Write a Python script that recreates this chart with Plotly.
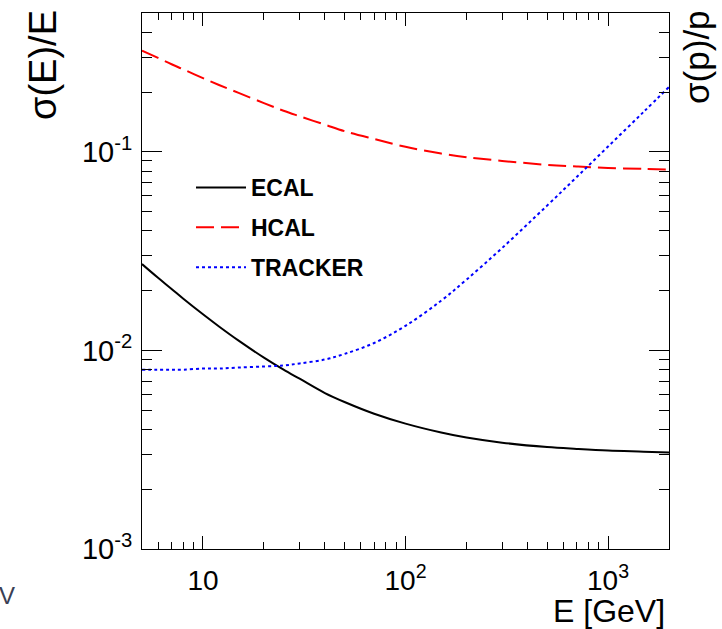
import plotly.graph_objects as go

# Energy / momentum points (GeV)
energy = [5, 6, 7, 8, 10, 12, 15, 20, 25, 30, 40, 50, 70, 100, 150, 200, 300, 500, 700, 1000, 1500, 2000]

# Resolutions
ecal = [0.0272, 0.0232, 0.0204, 0.0182, 0.0152, 0.0132, 0.0112, 0.0092, 0.0080, 0.0072,
        0.0061, 0.0055, 0.0048, 0.00428, 0.00386, 0.00364, 0.00343, 0.00326, 0.00319,
        0.00313, 0.00309, 0.00306]
hcal = [0.323, 0.297, 0.276, 0.260, 0.235, 0.217, 0.198, 0.176, 0.161, 0.151, 0.137,
        0.127, 0.116, 0.106, 0.098, 0.094, 0.090, 0.086, 0.0843, 0.0830, 0.0820, 0.0815]
tracker = [0.0080, 0.0080, 0.0080, 0.0080, 0.0081, 0.0081, 0.0082, 0.0083, 0.0084, 0.0086,
           0.0090, 0.0096, 0.0109, 0.0133, 0.0178, 0.0227, 0.0328, 0.0536, 0.0746,
           0.1063, 0.159, 0.212]

names = ["ECAL", "HCAL", "TRACKER"]
colors = ["#000000", "#ff0000", "#0000ff"]
dashes = ["solid", "18px,7px", "3px,3px"]
series = [ecal, hcal, tracker]

x_tickvals = [10, 100, 1000]
x_ticktext = ["10", "10<sup>2</sup>", "10<sup>3</sup>"]
y_tickvals = [0.001, 0.01, 0.1]
y_ticktext = ["10<sup>-3</sup>", "10<sup>-2</sup>", "10<sup>-1</sup>"]

FONT = "Liberation Sans, Arial, sans-serif"

fig = go.Figure()
for i, (nm, ys) in enumerate(zip(names, series)):
    fig.add_trace(go.Scatter(
        x=energy, y=ys, mode="lines", name="<b>" + nm + "</b>",
        legendgroup=nm, line=dict(color=colors[i], width=2, dash=dashes[i], shape="spline"),
    ))

W, H = 722, 629
L, R, T, B = 142, 53, 13, 80
pw, ph = W - L - R, H - T - B

def px(xp):
    return (xp - L) / pw

def py(yp):
    return (H - B - yp) / ph

fig.update_layout(
    width=W, height=H,
    margin=dict(l=L, r=R, t=T, b=B),
    paper_bgcolor="white", plot_bgcolor="white",
    font=dict(family=FONT, color="black"),
    showlegend=True,
    legend=dict(x=px(191), y=py(166), xanchor="left", yanchor="top",
                bgcolor="rgba(0,0,0,0)", font=dict(size=23, family=FONT, color="black"),
                tracegroupgap=7, itemwidth=50),
    xaxis=dict(type="log", range=[0.699, 3.301], showline=True, linecolor="black", linewidth=1,
               mirror="allticks", ticks="inside", ticklen=13, tickcolor="black",
               tickvals=x_tickvals, ticktext=x_ticktext, showgrid=False, zeroline=False,
               tickfont=dict(size=28, family=FONT), ticklabelstandoff=6,
               minor=dict(ticks="inside", ticklen=7, tickcolor="black",
                          tickvals=[6, 7, 8, 9, 20, 30, 40, 50, 60, 70, 80, 90,
                                    200, 300, 400, 500, 600, 700, 800, 900, 2000],
                          showgrid=False)),
    yaxis=dict(type="log", range=[-3, -0.301], showline=True, linecolor="black", linewidth=1,
               mirror="allticks", ticks="inside", ticklen=20, tickcolor="black",
               tickvals=y_tickvals, ticktext=y_ticktext, showgrid=False, zeroline=False,
               tickfont=dict(size=29, family=FONT), ticklabelstandoff=3,
               minor=dict(ticks="inside", ticklen=10, tickcolor="black",
                          tickvals=[0.002, 0.003, 0.004, 0.005, 0.006, 0.007, 0.008, 0.009,
                                    0.02, 0.03, 0.04, 0.05, 0.06, 0.07, 0.08, 0.09,
                                    0.2, 0.3, 0.4],
                          showgrid=False)),
    annotations=[
        dict(text="E [GeV]", xref="paper", yref="paper", x=px(666), y=py(611),
             xanchor="right", yanchor="middle", showarrow=False, borderpad=0,
             font=dict(size=32, family=FONT, color="black")),
        dict(text="σ(E)/E", xref="paper", yref="paper", x=px(43), y=py(8),
             xanchor="center", yanchor="top", textangle=-90, showarrow=False,
             font=dict(size=38, family=FONT, color="black")),
        dict(text="σ(p)/p", xref="paper", yref="paper", x=px(696), y=py(8),
             xanchor="center", yanchor="top", textangle=-90, showarrow=False,
             font=dict(size=35, family=FONT, color="black")),
        dict(text="V", xref="paper", yref="paper", x=px(-3), y=py(595),
             xanchor="left", yanchor="middle", showarrow=False,
             font=dict(size=24, family=FONT, color="#3a3f55")),
    ],
)

fig.write_html("out.html")
